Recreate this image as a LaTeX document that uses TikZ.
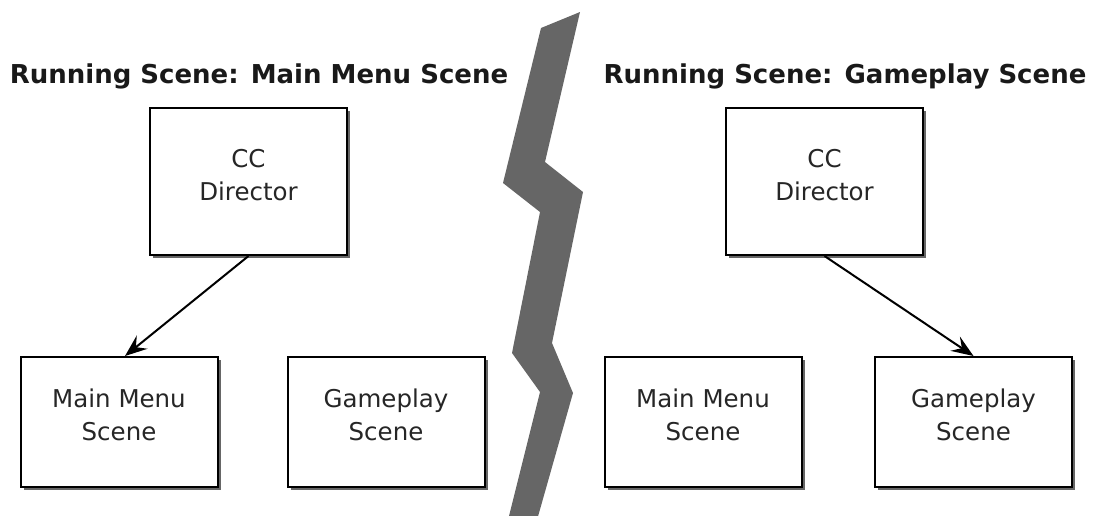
\documentclass[tikz,border=0pt]{standalone}
\usepackage{fontspec}
\setmainfont{DejaVu Sans}
\usetikzlibrary{shadows,arrows.meta}
\tikzset{
  scenebox/.style={draw=black, line width=2pt, fill=white, minimum width=197pt, minimum height=130pt,
    align=center, font=\fontsize{24.5}{33}\selectfont, inner sep=0pt, text=black!85,
    drop shadow={shadow xshift=3pt, shadow yshift=-3pt, fill=black, opacity=0.6}},
  dirbox/.style={scenebox, minimum height=147pt},
  title/.style={font=\fontsize{26}{30}\selectfont\bfseries, inner sep=0pt, text=black!90},
  link/.style={line width=2pt, -{Stealth[length=22pt,width=17pt,inset=8pt]}},
  crack/.style={fill=black!60, draw=none}
}
\begin{document}
\begin{tikzpicture}[x=1pt,y=-1pt]
\useasboundingbox (0,0) rectangle (1095,515);
% divider
\fill[crack] (541,28) -- (580,12) -- (545,162) -- (583,192) -- (552,343) -- (573,393) -- (537,520)
  -- (508,520) -- (540,392) -- (512,353) -- (540,212) -- (503,183) -- cycle;
% left side
\node[title] (ltitle) at (259,76) {Running Scene: Main Menu Scene};
\node[dirbox] (lcc) at (248.5,181.5) {CC\\Director\\[-19pt]};
\node[scenebox] (lmm) at (119,422) {Main Menu\\Scene\\[-19pt]};
\node[scenebox] (lgp) at (386,422) {Gameplay\\Scene\\[-19pt]};
\draw[link] (lcc.south) -- ([xshift=6pt]lmm.north);
% right side
\node[title] (rtitle) at (845,76) {Running Scene: Gameplay Scene};
\node[dirbox] (rcc) at (824.5,181.5) {CC\\Director\\[-19pt]};
\node[scenebox] (rmm) at (703,422) {Main Menu\\Scene\\[-19pt]};
\node[scenebox] (rgp) at (973.5,422) {Gameplay\\Scene\\[-19pt]};
\draw[link] (rcc.south) -- (rgp.north);
\end{tikzpicture}
\end{document}
